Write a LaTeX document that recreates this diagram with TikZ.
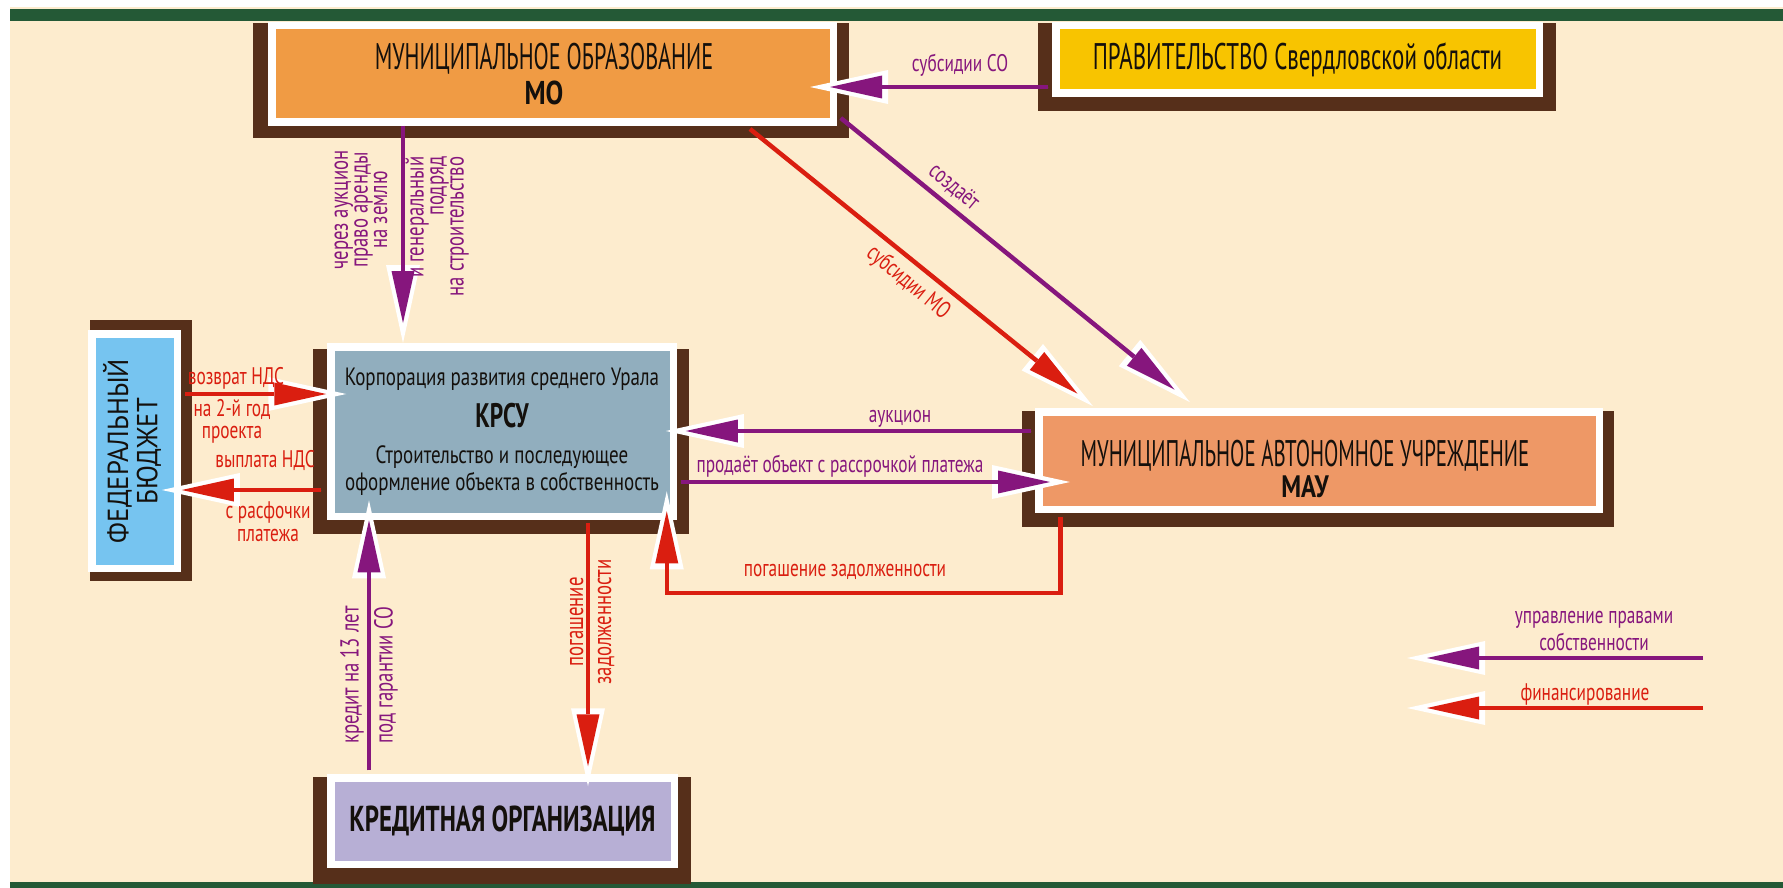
\documentclass[tikz,border=0pt]{standalone}
\usepackage{fontspec}
\usepackage{graphicx}
\setmainfont{PT Sans}
\newfontfamily\titlefont{PT Sans}[FakeStretch=0.60]
\newfontfamily\maufont{PT Sans}[FakeStretch=0.565]
\newfontfamily\govfont{PT Sans}[FakeStretch=0.62]
\newfontfamily\condfont{PT Sans}[FakeStretch=0.76]
\newfontfamily\boldfont{PT Sans}[FakeStretch=0.69]
\newfontfamily\boldwide{PT Sans}[FakeStretch=0.80]
\newfontfamily\labfont{PT Sans}[FakeStretch=0.72]
\newfontfamily\widefont{PT Sans}[FakeStretch=0.92]
\usetikzlibrary{arrows.meta,calc,backgrounds}
\definecolor{cream}{RGB}{253,236,206}
\definecolor{barg}{RGB}{36,89,54}
\definecolor{shadowc}{RGB}{86,47,26}
\definecolor{moc}{RGB}{240,155,68}
\definecolor{govc}{RGB}{248,196,0}
\definecolor{krc}{RGB}{145,174,190}
\definecolor{mauc}{RGB}{238,152,102}
\definecolor{fedc}{RGB}{118,196,240}
\definecolor{crc}{RGB}{183,175,213}
\definecolor{pur}{RGB}{134,22,125}
\definecolor{fin}{RGB}{218,30,16}
\definecolor{ink}{RGB}{20,16,12}
\tikzset{
  box/.style={draw=white, line width=7.5pt, inner sep=0pt, align=center, text=ink},
  lab/.style={font=\labfont\fontsize{24}{26}\selectfont, inner sep=0pt},
  plab/.style={lab, text=pur},
  rlab/.style={lab, text=fin},
  vlab/.style={inner sep=0pt, rotate=90},
  conn/.style={line width=4.5pt, line join=miter},
  tipped/.style={conn, draw=#1, shorten >=20pt,
    -{Triangle[length=52pt,width=23pt,line width=0pt,color=#1,fill=#1]},
    preaction={draw=white, line width=0.1pt, shorten >=0pt,
      -{Triangle[length=78pt,width=34pt,line width=0pt,color=white,fill=white]}}},
  parr/.style={tipped=pur},
  rarr/.style={tipped=fin},
  shadow/.style={fill=shadowc}
}
\begin{document}
\begin{tikzpicture}[x=1pt,y=-1pt]
\useasboundingbox (0,0) rectangle (1783,888);

% ---------- boxes ----------
\node[box, fill=moc, minimum width=561.5pt, minimum height=96.5pt,
      font=\titlefont\fontsize{37}{35}\selectfont] (mo) at (552.5,74)
  {МУНИЦИПАЛЬНОЕ ОБРАЗОВАНИЕ\hspace*{17pt}\null\\{\boldwide\bfseries\fontsize{33}{35}\selectfont МО}\hspace*{17pt}\null};
\node[box, fill=govc, minimum width=483.5pt, minimum height=67.5pt,
      font=\govfont\fontsize{37}{40}\selectfont] (gov) at (1297.5,59.5)
  {ПРАВИТЕЛЬСТВО Свердловской области};
\node[box, fill=krc, minimum width=342.5pt, minimum height=169.5pt,
      font=\condfont\fontsize{25}{27}\selectfont] (krsu) at (502,431.5)
  {Корпорация развития среднего Урала\\[12pt]{\boldfont\bfseries\fontsize{34}{27}\selectfont КРСУ}\\[9pt]Строительство и последующее\\оформление объекта в собственность};
\node[box, fill=mauc, minimum width=560.5pt, minimum height=97.5pt,
      font=\maufont\fontsize{37}{31}\selectfont] (mau) at (1319,460.5)
  {\rule{0pt}{43pt}МУНИЦИПАЛЬНОЕ АВТОНОМНОЕ УЧРЕЖДЕНИЕ\hspace*{28pt}\null\\{\boldwide\bfseries\fontsize{31}{31}\selectfont МАУ}\hspace*{28pt}\null};
\node[box, fill=fedc, minimum width=85.5pt, minimum height=234.5pt,
      font=\widefont\fontsize{29}{29}\selectfont] (fed) at (134.5,451)
  {\rotatebox{90}{\begin{tabular}{@{}c@{}}ФЕДЕРАЛЬНЫЙ\\БЮДЖЕТ\end{tabular}}};
\node[box, fill=crc, minimum width=343.5pt, minimum height=86.5pt,
      font=\boldfont\bfseries\fontsize{36}{40}\selectfont] (cr) at (502.5,821)
  {КРЕДИТНАЯ ОРГАНИЗАЦИЯ};

% ---------- background, bars, shadows ----------
\begin{pgfonlayer}{background}
  \fill[white] (0,0) rectangle (1783,888);
  \fill[cream] (10,7) rectangle (1783,888);
  \fill[barg] (10,9) rectangle (1783,21);
  \fill[barg] (10,882) rectangle (1783,888);
  \fill[shadow] ($(mo.north west)+(-14.75,1.25)$) rectangle ($(mo.south east)+(11.75,11.75)$);
  \fill[shadow] ($(gov.north west)+(-13.75,1.25)$) rectangle ($(gov.south east)+(12.75,13.75)$);
  \fill[shadow] ($(krsu.north west)+(-13.75,6.25)$) rectangle ($(krsu.south east)+(11.75,13.75)$);
  \fill[shadow] ($(mau.north west)+(-12.75,3.25)$) rectangle ($(mau.south east)+(10.75,13.75)$);
  \fill[shadow] ($(fed.north west)+(2.25,-9.75)$) rectangle ($(fed.south east)+(10.75,8.75)$);
  \fill[shadow] ($(cr.north west)+(-13.75,3.25)$) rectangle ($(cr.south east)+(12.75,15.75)$);
\end{pgfonlayer}

% ---------- connectors ----------
\draw[parr] ($(gov.west)+(-3.75,27.5)$) -- ($(mo.east)+(-27,13)$);
\draw[parr] ($(mo.south)+(-149.5,0)$) -- ($(krsu.north)+(-99,0)$);
\draw[rarr] ($(mo.south)+(197.5,3)$) -- ($(mau.north)+(-226,-1.75)$);
\draw[parr] ($(mo.south east)+(3.75,-8)$) -- ($(mau.north)+(-129,-5.75)$);
\draw[parr] ($(mau.west)+(-3.75,-29.5)$) -- ($(krsu.east)+(-11.25,-0.5)$);
\draw[parr] ($(krsu.east)+(3.75,50.5)$) -- ($(mau.west)+(35,21.5)$);
\draw[rarr] ($(mau.south west)+(25.25,3.75)$) -- ++(0,76) -| ($(krsu.south east)+(-10.25,-28.75)$);
\draw[rarr] ($(krsu.south)+(86,3.25)$) -- ($(cr.north)+(85.5,12.25)$);
\draw[parr] ($(cr.north)+(-133.5,-3.75)$) -- ($(krsu.south)+(-133,-19.75)$);
\draw[rarr] ($(fed.east)+(3.75,-57)$) -- ($(krsu.west)+(19.25,-37.5)$);
\draw[rarr] ($(krsu.west)+(-5.75,58.5)$) -- ($(fed.east)+(-19.25,39)$);

% legend
\coordinate (lp1) at (1703,658);
\coordinate (lp2) at (1407,658);
\coordinate (lr1) at (1703,708);
\coordinate (lr2) at (1407,708);
\draw[parr] (lp1) -- (lp2);
\draw[rarr] (lr1) -- (lr2);

% ---------- labels ----------
\node[plab, anchor=base] (l-sco) at (960,72) {субсидии СО};
\node[vlab, align=center, font=\labfont\fontsize{26}{17.5}\selectfont, text=pur] (l-auc) at (361,210)
  {через аукцион\\право аренды\\на землю};
\node[vlab, align=right, font=\labfont\fontsize{26}{20}\selectfont, text=pur] (l-gen) at (437,226.5)
  {и генеральный\\подряд\\на строительство};
\node[rlab, rotate=-39.7] (l-smo) at (908,283) {субсидии МО};
\node[plab, rotate=-39.6] (l-soz) at (954,187) {создаёт};
\node[plab, anchor=base] (l-auk) at (900,422) {аукцион};
\node[plab, anchor=base] (l-prod) at (840,472) {продаёт объект с рассрочкой платежа};
\node[rlab, anchor=base] (l-pog1) at (845,576) {погашение задолженности};
\node[vlab, align=center, font=\labfont\fontsize{26}{28}\selectfont, text=fin] (l-pog2) at (592,622)
  {погашение\\задолженности};
\node[vlab, align=left, font=\labfont\fontsize{26}{34}\selectfont, text=pur] (l-kred) at (369,675)
  {кредит на 13 лет\\под гарантии СО};
\node[rlab, anchor=base] (l-vozv) at (236,384) {возврат НДС};
\node[rlab, align=center, font=\labfont\fontsize{24}{21.5}\selectfont] (l-vozv2) at (232,421.5)
  {на 2-й год\\проекта};
\node[rlab, anchor=base] (l-vypl) at (265,467) {выплата НДС};
\node[rlab, align=center, font=\labfont\fontsize{24}{23}\selectfont] (l-vypl2) at (268,521.5)
  {с расфочки\\платежа};
\node[plab, align=center, font=\labfont\fontsize{24}{27}\selectfont] (l-leg1) at (1594,631)
  {управление правами\\собственности};
\node[rlab, anchor=base] (l-leg2) at (1585,700) {финансирование};
\end{tikzpicture}
\end{document}
